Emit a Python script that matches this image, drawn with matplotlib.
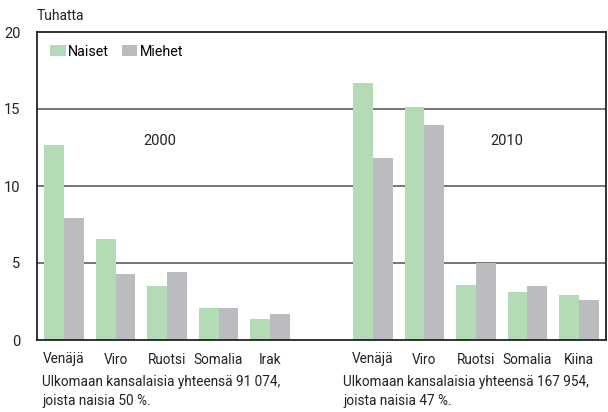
import matplotlib.pyplot as plt
import numpy as np

plt.rcParams['font.family'] = ['Roboto', 'DejaVu Sans']

countries_2000 = ['Venäjä', 'Viro', 'Ruotsi', 'Somalia', 'Irak']
naiset_2000 = [12.65, 6.55, 3.5, 2.1, 1.35]
miehet_2000 = [7.9, 4.3, 4.4, 2.1, 1.7]

countries_2010 = ['Venäjä', 'Viro', 'Ruotsi', 'Somalia', 'Kiina']
naiset_2010 = [16.7, 15.1, 3.6, 3.1, 2.9]
miehet_2010 = [11.8, 13.95, 5.0, 3.5, 2.6]

green = '#b3dbb5'
grey = '#bcbcc0'
w = 0.38
fs = 9.8

fig = plt.figure(figsize=(6.08, 4.12), dpi=100)
ax = fig.add_axes([37/608, 72/412, 569/608, 308/412])

pos = np.r_[np.arange(5), np.arange(6, 11)]
naiset = naiset_2000 + naiset_2010
miehet = miehet_2000 + miehet_2010
labels = countries_2000 + countries_2010

ax.bar(pos - w/2, naiset, w, color=green, label='Naiset', zorder=2)
ax.bar(pos + w/2, miehet, w, color=grey, label='Miehet', zorder=2)

ax.set_xlim(-0.525, 10.525)
ax.set_ylim(0, 20)
ax.set_yticks([0, 5, 10, 15, 20])
ax.set_xticks(pos)
ax.set_xticklabels(labels)
ax.tick_params(axis='both', length=0, labelsize=10.5, colors='#222222')
ax.tick_params(axis='y', pad=12)
ax.tick_params(axis='x', pad=9, labelsize=fs)
for y in [5, 10, 15]:
    ax.axhline(y, color='#6a6a6a', lw=1.3, zorder=1)
for s in ax.spines.values():
    s.set_color('#222222')
    s.set_linewidth(1.3)

ax.text(1.86, 12.9, '2000', fontsize=10.5, ha='center', va='center', color='#222222')
ax.text(8.6, 12.9, '2010', fontsize=10.5, ha='center', va='center', color='#222222')

ax.legend(loc='upper left', bbox_to_anchor=(0.0, 1.0), frameon=False, ncol=2,
          fontsize=10.3, handlelength=1.1, handleheight=0.8, handletextpad=0.15,
          columnspacing=0.9, borderaxespad=0.5)

fig.text(37/608, 1 - 16/412, 'Tuhatta', fontsize=10, va='center', color='#222222')
fig.text(42/608, 1 - 382/412, 'Ulkomaan kansalaisia yhteensä 91 074,', fontsize=fs, va='center', color='#222222')
fig.text(42/608, 1 - 401/412, 'joista naisia 50 %.', fontsize=fs, va='center', color='#222222')
fig.text(343/608, 1 - 382/412, 'Ulkomaan kansalaisia yhteensä 167 954,', fontsize=fs, va='center', color='#222222')
fig.text(343/608, 1 - 401/412, 'joista naisia 47 %.', fontsize=fs, va='center', color='#222222')

fig.savefig('out.png', dpi=100)
